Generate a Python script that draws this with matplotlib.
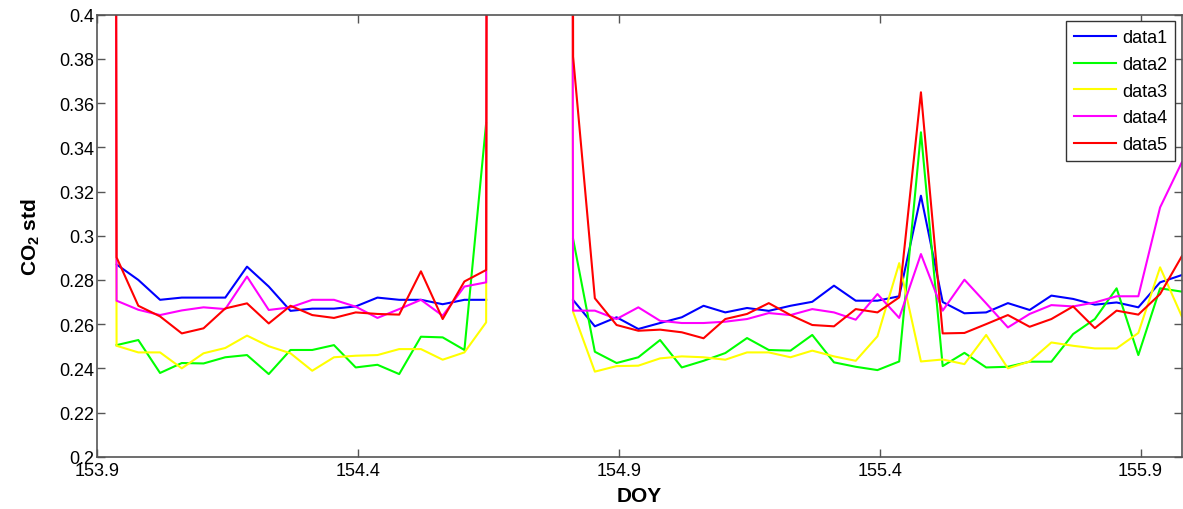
import numpy as np
import matplotlib.pyplot as plt

plt.rcParams["font.family"] = ["Liberation Sans", "DejaVu Sans"]
plt.rcParams["mathtext.fontset"] = "custom"
plt.rcParams["mathtext.rm"] = "Liberation Sans"
plt.rcParams["mathtext.bf"] = "Liberation Sans:bold"

# hourly samples (half past the hour), DOY 153.896 .. 155.979
doy = 153 + (21.5 + np.arange(51)) / 24

nan = np.nan

# std of CO2 per hour; very large values are the calibration hours
data1 = ([nan] +
         [0.287, 0.280, 0.271, 0.272, 0.272, 0.272, 0.286, 0.277, 0.266,
          0.267, 0.267, 0.268, 0.272, 0.271, 0.271, 0.269, 0.271, 0.271] +
         [nan, nan, nan] +
         [0.2709, 0.259, 0.2631, 0.2578, 0.2605, 0.2631, 0.2683, 0.2653, 0.2673,
          0.266, 0.2683, 0.2701, 0.2774, 0.2706, 0.2706, 0.2726, 0.3181, 0.270,
          0.2649, 0.2653, 0.2695, 0.2664, 0.2729, 0.2714, 0.2688, 0.2698, 0.2676,
          0.2789, 0.2822])

data2 = ([nan] +
         [0.2505, 0.2528, 0.2379, 0.2424, 0.2422, 0.245, 0.246, 0.2374, 0.2483,
          0.2483, 0.2505, 0.2404, 0.2416, 0.2374, 0.2543, 0.254, 0.2483, 0.351] +
         [nan, nan, nan] +
         [0.2985, 0.2475, 0.2424, 0.245, 0.2528, 0.2404, 0.2434, 0.2469, 0.2537,
          0.2483, 0.248, 0.2551, 0.2427, 0.2407, 0.2392, 0.2431, 0.3468, 0.241,
          0.247, 0.2404, 0.2407, 0.243, 0.243, 0.2555, 0.2623, 0.2762, 0.246,
          0.2762, 0.2747])

data3 = ([5.8] +
         [0.2502, 0.2472, 0.2472, 0.240, 0.2468, 0.2492, 0.2548, 0.250, 0.2468,
          0.2389, 0.245, 0.2457, 0.246, 0.2487, 0.2487, 0.2439, 0.2472, 0.2608] +
         [6.1, 6.6, 6.3] +
         [0.2655, 0.2385, 0.241, 0.2412, 0.2445, 0.2454, 0.245, 0.2439, 0.2472,
          0.2472, 0.245, 0.248, 0.2454, 0.2434, 0.2545, 0.2876, 0.2431, 0.244,
          0.2419, 0.2551, 0.240, 0.2431, 0.2517, 0.2502, 0.249, 0.249, 0.256,
          0.2857, 0.2635])

data4 = ([6.4] +
         [0.2706, 0.2665, 0.2641, 0.2662, 0.2676, 0.2668, 0.2815, 0.2664, 0.2676,
          0.271, 0.271, 0.2679, 0.2628, 0.2668, 0.271, 0.2638, 0.277, 0.2789] +
         [6.9, 7.4, 7.0] +
         [0.2661, 0.2661, 0.2623, 0.2676, 0.2615, 0.2605, 0.2605, 0.2611, 0.2623,
          0.265, 0.2641, 0.2668, 0.2653, 0.262, 0.2736, 0.2628, 0.2917, 0.2661,
          0.2801, 0.2694, 0.2585, 0.2646, 0.2686, 0.268, 0.2698, 0.2726, 0.2726,
          0.3128, 0.3332])

data5 = ([7.1] +
         [0.2902, 0.2683, 0.2635, 0.2558, 0.2581, 0.2671, 0.2694, 0.2603, 0.2683,
          0.2641, 0.2628, 0.2653, 0.2646, 0.2643, 0.2839, 0.2623, 0.2793, 0.2845] +
         [7.6, 8.2, 7.8] +
         [0.381, 0.2717, 0.2596, 0.257, 0.2575, 0.2563, 0.2536, 0.2623, 0.2646,
          0.2695, 0.2641, 0.2596, 0.259, 0.2668, 0.2653, 0.2721, 0.3649, 0.2558,
          0.256, 0.260, 0.2641, 0.2588, 0.2623, 0.268, 0.2582, 0.2661, 0.2643,
          0.2736, 0.2907])

series = [data1, data2, data3, data4, data5]
labels = ["data1", "data2", "data3", "data4", "data5"]
colors = ["#0000ff", "#00ff00", "#ffff00", "#ff00ff", "#ff0000"]

xticks = [153.9, 154.4, 154.9, 155.4, 155.9]
yticks = [0.2, 0.22, 0.24, 0.26, 0.28, 0.3, 0.32, 0.34, 0.36, 0.38, 0.4]


fig = plt.figure(figsize=(11.83, 5.10), dpi=100)
ax = fig.add_axes([0.082, 0.1025, 0.917, 0.8667])

for y, lab, c in zip(series, labels, colors):
    ax.plot(doy, y, color=c, linewidth=1.5, label=lab)

ax.set_xlim(153.9, doy[-1])
ax.set_ylim(0.2, 0.4)

ax.set_xticks(xticks)
ax.set_xticklabels([f"{t:g}" for t in xticks])
ax.set_yticks(yticks)
ax.set_yticklabels([f"{t:g}" for t in yticks])

ax.tick_params(direction="in", length=6, width=1, colors="#555555",
               labelcolor="black", labelsize=13, top=True, right=True)
ax.tick_params(axis="y", pad=2)
for s in ax.spines.values():
    s.set_color("#555555")
    s.set_linewidth(1.2)

ax.set_xlabel("DOY", fontsize=15, fontweight="bold", labelpad=5)
ax.set_ylabel(r"$\mathbf{CO_2}$ std", fontsize=15, fontweight="bold", labelpad=12)

leg = ax.legend(loc="upper right", fontsize=13, fancybox=False, framealpha=1,
                edgecolor="#333333", handlelength=2.3, borderaxespad=0.35,
                labelspacing=0.54, handletextpad=0.35, borderpad=0.45)
leg.get_frame().set_linewidth(1.0)

fig.savefig("out.png", dpi=100)
